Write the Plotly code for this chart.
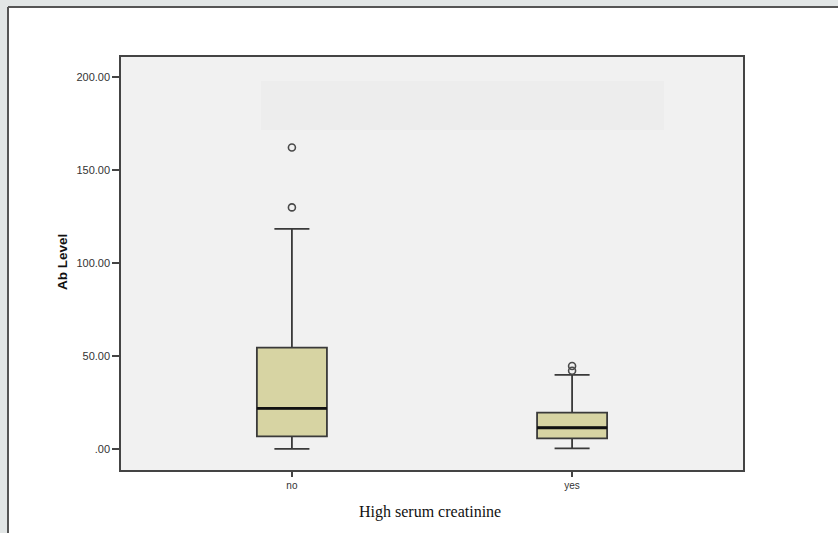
import plotly.graph_objects as go

# ---- data ----
categories = ["no", "yes"]
q1 = [6.8, 5.7]
median = [21.8, 11.4]
q3 = [54.5, 19.5]
lower_fence = [0.0, 0.3]
upper_fence = [118.3, 39.8]
outliers_no = [129.8, 162.0]
outliers_yes = [42.0, 44.6]

y_tickvals = [0, 50, 100, 150, 200]
y_ticktext = [".00", "50.00", "100.00", "150.00", "200.00"]

# ---- styling ----
W, H = 838, 533
L, R, T, B = 121, 95, 57, 63
box_fill = "#d7d4a3"
edge = "#3a3a3a"

fig = go.Figure()

fig.add_trace(go.Box(
    x=categories, q1=q1, median=median, q3=q3,
    lowerfence=lower_fence, upperfence=upper_fence,
    fillcolor=box_fill, line=dict(color=edge, width=1.8),
    width=0.25, whiskerwidth=0.5, boxpoints=False,
    showlegend=False, hoverinfo="skip",
))
# thicker median line drawn as a degenerate box
fig.add_trace(go.Box(
    x=categories, q1=median, median=median, q3=median,
    lowerfence=median, upperfence=median,
    fillcolor="rgba(0,0,0,0)", line=dict(color="#111111", width=2.8),
    width=0.25, whiskerwidth=0, boxpoints=False,
    showlegend=False, hoverinfo="skip",
))
fig.add_trace(go.Scatter(
    x=[categories[0]] * len(outliers_no) + [categories[1]] * len(outliers_yes),
    y=outliers_no + outliers_yes,
    mode="markers",
    marker=dict(symbol="circle-open", size=7, color="#4a4a4a", line=dict(width=1.6)),
    showlegend=False, hoverinfo="skip",
))

ph = H - T - B
pw = W - L - R
def px_x(p):
    return (p - L) / pw
def px_y(p):
    return (H - B - p) / ph

shapes = [
    # white page panel
    dict(type="rect", xref="paper", yref="paper", layer="below",
         x0=px_x(8), x1=px_x(900), y0=px_y(600), y1=px_y(7),
         fillcolor="white", line=dict(width=0)),
    dict(type="line", xref="paper", yref="paper", layer="below",
         x0=px_x(8), x1=px_x(900), y0=px_y(7), y1=px_y(7),
         line=dict(color="#555555", width=2)),
    dict(type="line", xref="paper", yref="paper", layer="below",
         x0=px_x(8), x1=px_x(8), y0=px_y(600), y1=px_y(7),
         line=dict(color="#555555", width=2)),
    # plot background
    dict(type="rect", xref="paper", yref="paper", layer="below",
         x0=0, x1=1, y0=0, y1=1, fillcolor="#f1f1f1", line=dict(width=0)),
    # faint legend placeholder area
    dict(type="rect", xref="paper", yref="paper", layer="below",
         x0=px_x(261), x1=px_x(664), y0=px_y(130), y1=px_y(81),
         fillcolor="#ededed", line=dict(width=0)),
]

fig.update_layout(
    width=W, height=H,
    margin=dict(l=L, r=R, t=T, b=B),
    paper_bgcolor="#e2e6e6",
    plot_bgcolor="rgba(0,0,0,0)",
    boxmode="overlay",
    shapes=shapes,
    font=dict(family="Liberation Sans, Arial, sans-serif", color="#333333"),
    annotations=[
        dict(text="<b>Ab Level</b>", xref="paper", yref="paper",
             x=px_x(62), y=px_y(262), xanchor="center", yanchor="middle",
             textangle=-90, showarrow=False,
             font=dict(family="Liberation Sans, Arial, sans-serif", size=13.5, color="#111111")),
        dict(text="High serum creatinine", xref="paper", yref="paper",
             x=px_x(430), y=px_y(512), xanchor="center", yanchor="middle",
             showarrow=False,
             font=dict(family="Liberation Serif, Times New Roman, serif", size=16, color="#111111")),
    ],
)

fig.update_xaxes(
    type="category", range=[-0.61, 1.61],
    showline=True, mirror=True, linecolor="#444444", linewidth=1.5,
    ticks="outside", ticklen=5, tickcolor="#444444", tickwidth=1.5,
    showgrid=False, zeroline=False,
    tickfont=dict(size=10, color="#333333"),
)
fig.update_yaxes(
    range=[-11.3, 210.6],
    tickvals=y_tickvals, ticktext=y_ticktext,
    showline=True, mirror=True, linecolor="#444444", linewidth=1.5,
    ticks="outside", ticklen=7, tickcolor="#444444", tickwidth=1.5,
    showgrid=False, zeroline=False,
    tickfont=dict(size=11, color="#333333"),
)

fig.write_html("out.html")
